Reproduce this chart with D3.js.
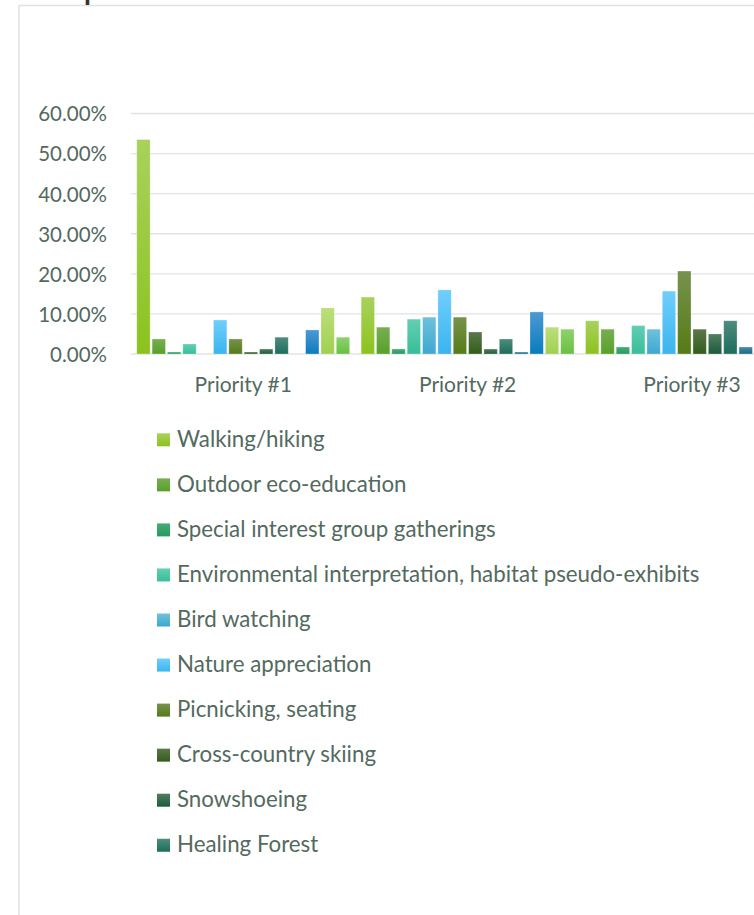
<!DOCTYPE html>
<html><head><meta charset="utf-8">
<script src="https://cdnjs.cloudflare.com/ajax/libs/d3/7.8.5/d3.min.js"></script>
<style>
html,body{margin:0;padding:0;background:#fff;overflow:hidden;}
svg{display:block;font-family:Lato,"Open Sans",sans-serif;}
</style></head><body>
<svg id="chart" width="754" height="915"></svg>
<script>
const categories = ["Priority #1", "Priority #2", "Priority #3"];
const seriesNames = [
  "Walking/hiking", "Outdoor eco-education", "Special interest group gatherings",
  "Environmental interpretation, habitat pseudo-exhibits", "Bird watching",
  "Nature appreciation", "Picnicking, seating", "Cross-country skiing",
  "Snowshoeing", "Healing Forest", "Series 11", "Series 12", "Series 13", "Series 14"
];
// values per series: [Priority #1, Priority #2, Priority #3]; null = outside the picture
const walking      = [0.535, 0.142, 0.083];
const outdoorEdu   = [0.0375, 0.067, 0.062];
const specialGroup = [0.005, 0.0125, 0.0175];
const envInterp    = [0.025, 0.087, 0.071];
const birdWatching = [0.0, 0.092, 0.062];
const natureApp    = [0.085, 0.16, 0.157];
const picnicking   = [0.0375, 0.092, 0.207];
const crossCountry = [0.005, 0.055, 0.062];
const snowshoeing  = [0.0125, 0.0125, 0.05];
const healing      = [0.042, 0.0375, 0.083];
const series11     = [0.0, 0.005, 0.0175];
const series12     = [0.06, 0.105, null];
const series13     = [0.115, 0.067, null];
const series14     = [0.042, 0.062, null];
const seriesValues = [walking, outdoorEdu, specialGroup, envInterp, birdWatching, natureApp,
  picnicking, crossCountry, snowshoeing, healing, series11, series12, series13, series14];
const yTicks = [0, 0.1, 0.2, 0.3, 0.4, 0.5, 0.6];
const legendCount = 10; // legend is clipped after ten entries

const colorTop = ["#a8d25c","#78ae52","#44ad78","#62cfb3","#6fc1dd","#70cffc","#77924c","#5b774c","#527e5f","#4f8c7d","#4a8ca4","#4d99d2","#bcde7c","#8ed26e"];
const colorBot = ["#8cc21e","#58a02a","#28995d","#38be98","#3ea8cf","#3ab4ee","#567b17","#335d1b","#1d5b3b","#1c6d5b","#19698a","#0a7bbf","#a0d04e","#6abf42"];

const svg = d3.select("#chart");
const defs = svg.append("defs");
seriesNames.forEach((n, i) => {
  const g = defs.append("linearGradient").attr("id", "g" + i)
    .attr("x1", 0).attr("y1", 0).attr("x2", 0).attr("y2", 1);
  g.append("stop").attr("offset", "0%").attr("stop-color", colorTop[i]);
  g.append("stop").attr("offset", "100%").attr("stop-color", colorBot[i]);
});

// chart frame
svg.append("path").attr("d", "M19,916 V5.5 H760")
  .attr("fill", "none").attr("stroke", "#dfe4e2").attr("stroke-width", 1.6);
// cut-off title (only descender visible in the reference)
svg.append("text").attr("x", 84).attr("y", 0).attr("font-size", 28).attr("font-weight", 700)
  .attr("fill", "#333").text("p");

const textColor = "#536a5e";
const plotLeft = 131, step = 224.4;
const x0 = d3.scaleBand().domain(categories).range([plotLeft, plotLeft + step * categories.length])
  .paddingInner(0.0423).paddingOuter(0.0212);
const x1 = d3.scaleBand().domain(d3.range(seriesNames.length)).range([0, x0.bandwidth()]);
const y = d3.scaleLinear().domain([0, 0.6]).range([354, 113.5]);

// gridlines
svg.append("g").selectAll("line").data(yTicks).join("line")
  .attr("x1", plotLeft).attr("x2", 800)
  .attr("y1", d => y(d)).attr("y2", d => y(d))
  .attr("stroke", "#dfe5e3").attr("stroke-width", 1.3);

// y axis labels
const yAxis = d3.axisLeft(y).tickValues(yTicks).tickFormat(d3.format(".2%")).tickSize(0).tickPadding(0);
const ya = svg.append("g").attr("transform", "translate(107,0)").call(yAxis);
ya.select(".domain").remove();
ya.selectAll("text").attr("fill", textColor).attr("font-size", 20.5)
  .attr("font-family", "Lato, sans-serif").attr("dy", "0.36em");

// bars
const groups = svg.append("g").selectAll("g").data(categories).join("g")
  .attr("transform", d => `translate(${x0(d)},0)`);
groups.selectAll("rect")
  .data((c, ci) => seriesValues.map((vals, si) => ({si, v: vals[ci]})).filter(d => d.v !== null))
  .join("rect")
  .attr("x", d => x1(d.si) + 1)
  .attr("width", x1.bandwidth() - 2)
  .attr("y", d => y(d.v))
  .attr("height", d => y(0) - y(d.v))
  .attr("fill", d => `url(#g${d.si})`)
  .attr("stroke", "rgba(255,255,255,0.35)").attr("stroke-width", 0.8);

// x axis labels
const xAxis = d3.axisBottom(x0).tickSize(0).tickPadding(0);
const xa = svg.append("g").attr("transform", "translate(0,391.5)").call(xAxis);
xa.select(".domain").remove();
xa.selectAll("text").attr("fill", textColor).attr("font-size", 21)
  .attr("font-family", "Lato, sans-serif").attr("dy", 0);

// legend
const legend = svg.append("g").selectAll("g").data(seriesNames.slice(0, legendCount)).join("g")
  .attr("transform", (d, i) => `translate(157,${433.3 + i * 45.05})`);
legend.append("rect").attr("width", 13).attr("height", 13)
  .attr("fill", (d, i) => `url(#g${i})`);
legend.append("text").attr("x", 20).attr("y", 13.6)
  .attr("fill", textColor).attr("font-size", 22.3).text(d => d);
</script>
</body></html>
